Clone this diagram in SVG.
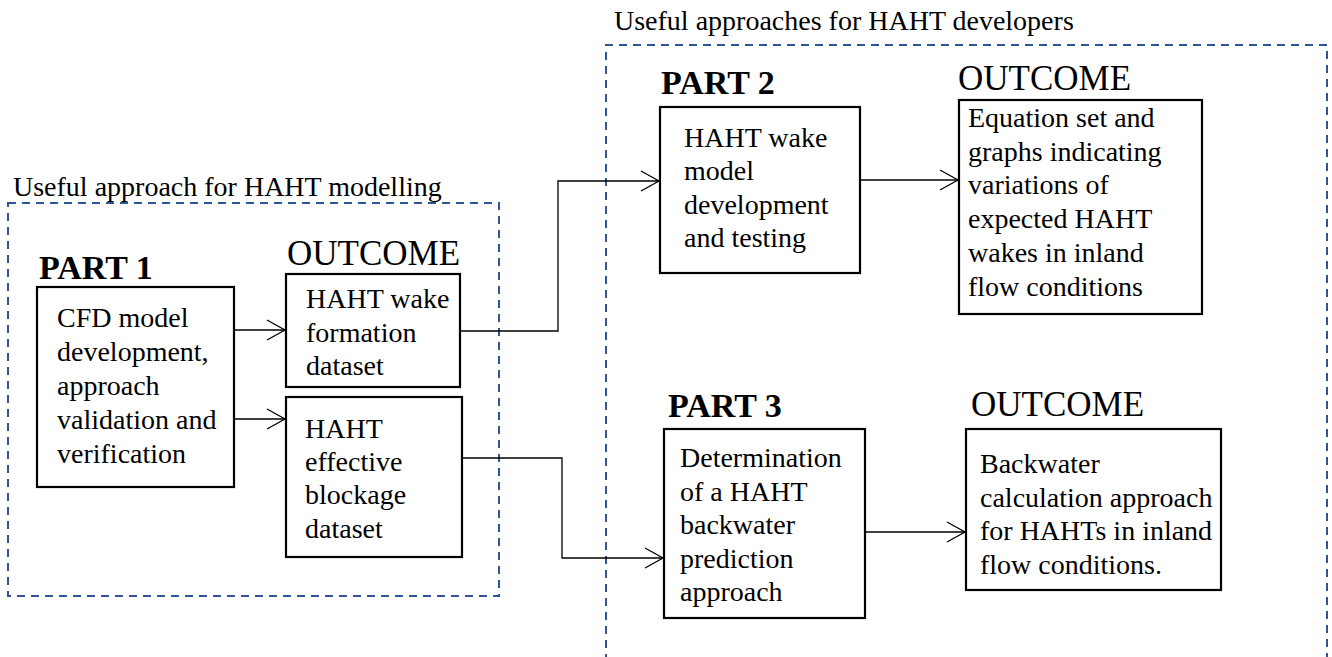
<svg xmlns="http://www.w3.org/2000/svg" width="1332" height="657" viewBox="0 0 1332 657">
  <style>
    .bg { fill: #ffffff; }
    .group-frame { fill: none; stroke: #2F5597; stroke-width: 2; stroke-dasharray: 8 6; }
    .box { fill: #ffffff; stroke: #000000; stroke-width: 2.2; }
    .link { fill: none; stroke: #000000; stroke-width: 1.3; marker-end: url(#open-arrow); }
    .txt { font-family: "Liberation Serif", "Times New Roman", serif; font-size: 28px; fill: #000000; }
    .part { font-family: "Liberation Serif", "Times New Roman", serif; font-size: 34px; font-weight: bold; fill: #000000; }
    .outcome { font-family: "Liberation Serif", "Times New Roman", serif; font-size: 35px; fill: #000000; }
  </style>
  <defs>
    <marker id="open-arrow" markerUnits="userSpaceOnUse" markerWidth="24" markerHeight="24" viewBox="-20 -12 22 24" refX="0" refY="0" orient="auto">
      <path d="M-18,-10 L0,0 L-18,10" fill="none" stroke="#000000" stroke-width="1.3"/>
    </marker>
  </defs>

  <rect class="bg" x="0" y="0" width="1332" height="657"/>

  <!-- grouping frames -->
  <g id="group-modelling">
    <rect class="group-frame" x="8" y="203" width="491" height="393"/>
    <text class="txt" x="13" y="196">Useful approach for HAHT modelling</text>
  </g>
  <g id="group-developers">
    <path class="group-frame" d="M606,662 V45 H1327 V662"/>
    <text class="txt" x="614" y="30">Useful approaches for HAHT developers</text>
  </g>

  <!-- connectors -->
  <g id="connectors">
    <path class="link" d="M234,330 H285"/>
    <path class="link" d="M230,419 H285"/>
    <path class="link" d="M458,331 H558 V181 H659"/>
    <path class="link" d="M461,458 H562 V558 H663"/>
    <path class="link" d="M860,180 H958"/>
    <path class="link" d="M865,532 H965"/>
  </g>

  <!-- Part 1 -->
  <g id="part1">
    <text class="part" x="39" y="279">PART 1</text>
    <rect class="box" x="37" y="287" width="197" height="200"/>
    <text class="txt" x="57" y="327">CFD model</text>
    <text class="txt" x="57" y="361">development,</text>
    <text class="txt" x="57" y="395">approach</text>
    <text class="txt" x="57" y="429">validation and</text>
    <text class="txt" x="57" y="463">verification</text>
  </g>

  <g id="outcome-wake-dataset">
    <text class="outcome" x="287" y="265">OUTCOME</text>
    <rect class="box" x="286" y="274" width="174" height="113"/>
    <text class="txt" x="306" y="308">HAHT wake</text>
    <text class="txt" x="306" y="342">formation</text>
    <text class="txt" x="306" y="375">dataset</text>
  </g>

  <g id="outcome-blockage-dataset">
    <rect class="box" x="286" y="397" width="176" height="160"/>
    <text class="txt" x="305" y="438">HAHT</text>
    <text class="txt" x="305" y="471">effective</text>
    <text class="txt" x="305" y="504">blockage</text>
    <text class="txt" x="305" y="538">dataset</text>
  </g>

  <!-- Part 2 -->
  <g id="part2">
    <text class="part" x="661" y="94">PART 2</text>
    <rect class="box" x="660" y="107" width="200" height="166"/>
    <text class="txt" x="684" y="147">HAHT wake</text>
    <text class="txt" x="684" y="180">model</text>
    <text class="txt" x="684" y="214">development</text>
    <text class="txt" x="684" y="247">and testing</text>
  </g>

  <g id="outcome-wake-model">
    <text class="outcome" x="958" y="90">OUTCOME</text>
    <rect class="box" x="959" y="100" width="243" height="214"/>
    <text class="txt" x="968" y="127">Equation set and</text>
    <text class="txt" x="968" y="161">graphs indicating</text>
    <text class="txt" x="968" y="194">variations of</text>
    <text class="txt" x="968" y="228">expected HAHT</text>
    <text class="txt" x="968" y="262">wakes in inland</text>
    <text class="txt" x="968" y="296">flow conditions</text>
  </g>

  <!-- Part 3 -->
  <g id="part3">
    <text class="part" x="668" y="417">PART 3</text>
    <rect class="box" x="664" y="429" width="201" height="189"/>
    <text class="txt" x="680" y="467">Determination</text>
    <text class="txt" x="680" y="501">of a HAHT</text>
    <text class="txt" x="680" y="534">backwater</text>
    <text class="txt" x="680" y="568">prediction</text>
    <text class="txt" x="680" y="601">approach</text>
  </g>

  <g id="outcome-backwater">
    <text class="outcome" x="971" y="416">OUTCOME</text>
    <rect class="box" x="966" y="429" width="255" height="161"/>
    <text class="txt" x="980" y="473">Backwater</text>
    <text class="txt" x="980" y="507">calculation approach</text>
    <text class="txt" x="980" y="540">for HAHTs in inland</text>
    <text class="txt" x="980" y="574">flow conditions.</text>
  </g>
</svg>
